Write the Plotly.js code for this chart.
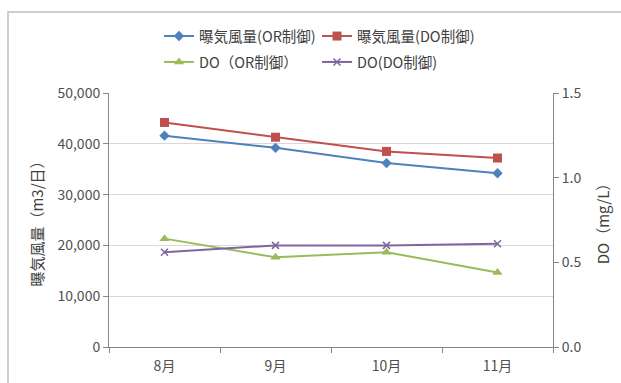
<!DOCTYPE html>
<html>
<head>
<meta charset="utf-8">
<script src="https://cdn.plot.ly/plotly-3.0.1.min.js"></script>
<style>
  html, body { margin: 0; padding: 0; background: #fff; }
  #chart { width: 621px; height: 383px; }
</style>
</head>
<body>
<div id="chart"></div>
<script>
// Months on the category axis
const months = ['8月', '9月', '10月', '11月'];

// Aeration air volume (m3/day)
const airOR = [41600, 39200, 36200, 34200];
const airDO = [44200, 41300, 38500, 37200];

// Dissolved oxygen (mg/L)
const doOR = [0.64, 0.53, 0.56, 0.44];
const doDO = [0.56, 0.60, 0.60, 0.61];

// Series names
const names = ['曝気風量(OR制御)', '曝気風量(DO制御)', 'DO（OR制御）', 'DO(DO制御)'];

const font = '"Noto Sans CJK JP", sans-serif';
const tickColor = '#505050';

const traces = [
  { x: months, y: airOR, name: names[0], type: 'scatter', mode: 'lines+markers',
    line: { color: '#4F81BD', width: 2 }, marker: { symbol: 'diamond', size: 8, color: '#4F81BD' },
    legend: 'legend' },
  { x: months, y: airDO, name: names[1], type: 'scatter', mode: 'lines+markers',
    line: { color: '#C0504D', width: 2 }, marker: { symbol: 'square', size: 9, color: '#C0504D' },
    legend: 'legend' },
  { x: months, y: doOR, name: names[2], type: 'scatter', mode: 'lines+markers', yaxis: 'y2',
    line: { color: '#9BBB59', width: 2 }, marker: { symbol: 'triangle-up', size: 9, color: '#9BBB59' },
    legend: 'legend2' },
  { x: months, y: doDO, name: names[3], type: 'scatter', mode: 'lines+markers', yaxis: 'y2',
    line: { color: '#8064A2', width: 2 }, marker: { symbol: 'x-thin', size: 7, line: { color: '#8064A2', width: 1.5 } },
    legend: 'legend2' }
];

const legendBase = {
  orientation: 'h', xanchor: 'left', yanchor: 'middle',
  entrywidth: 113, entrywidthmode: 'pixels',
  font: { family: font, size: 14.5, color: '#404040' },
  bgcolor: 'rgba(0,0,0,0)', tracegroupgap: 0, itemwidth: 30
};

const layout = {
  width: 621, height: 383,
  margin: { l: 109, r: 68, t: 93, b: 36 },
  paper_bgcolor: '#fff', plot_bgcolor: '#fff',
  font: { family: font, size: 14, color: tickColor },
  showlegend: true,
  legend: Object.assign({}, legendBase, { x: 0.1126, y: 1.224 }),
  legend2: Object.assign({}, legendBase, { x: 0.1126, y: 1.122 }),
  xaxis: {
    type: 'category', range: [-0.5, 3.5],
    showline: true, linecolor: '#868686', linewidth: 1,
    ticks: 'outside', tickson: 'boundaries', ticklen: 5, tickcolor: '#868686',
    ticklabelstandoff: 6,
    showgrid: false, zeroline: false,
    tickfont: { family: font, size: 14, color: tickColor }
  },
  yaxis: {
    range: [0, 50000], dtick: 10000, tickformat: ',',
    showline: true, linecolor: '#868686', linewidth: 1,
    ticks: 'outside', ticklen: 5, tickcolor: '#868686',
    showgrid: true, gridcolor: '#D9D9D9', gridwidth: 1, zeroline: false,
    tickfont: { family: font, size: 14, color: tickColor },
    title: { text: '曝気風量（m3/日）', font: { family: font, size: 15, color: '#404040' }, standoff: 10 }
  },
  yaxis2: {
    overlaying: 'y', side: 'right', range: [0, 1.5], dtick: 0.5, tickformat: '.1f',
    showline: true, linecolor: '#868686', linewidth: 1,
    ticks: 'outside', ticklen: 5, tickcolor: '#868686',
    showgrid: false, zeroline: false,
    tickfont: { family: font, size: 14, color: tickColor },
    title: { text: 'DO（mg/L）', font: { family: font, size: 15, color: '#404040' }, standoff: 18 }
  },
  shapes: [
    { type: 'rect', xref: 'paper', yref: 'paper', x0: -0.2275, x1: 1.3, y0: -0.3, y1: 1.319,
      line: { color: '#BFBFBF', width: 1.5 }, fillcolor: 'rgba(0,0,0,0)', layer: 'below' }
  ]
};

Plotly.newPlot('chart', traces, layout, { displayModeBar: false, staticPlot: true });
</script>
</body>
</html>
